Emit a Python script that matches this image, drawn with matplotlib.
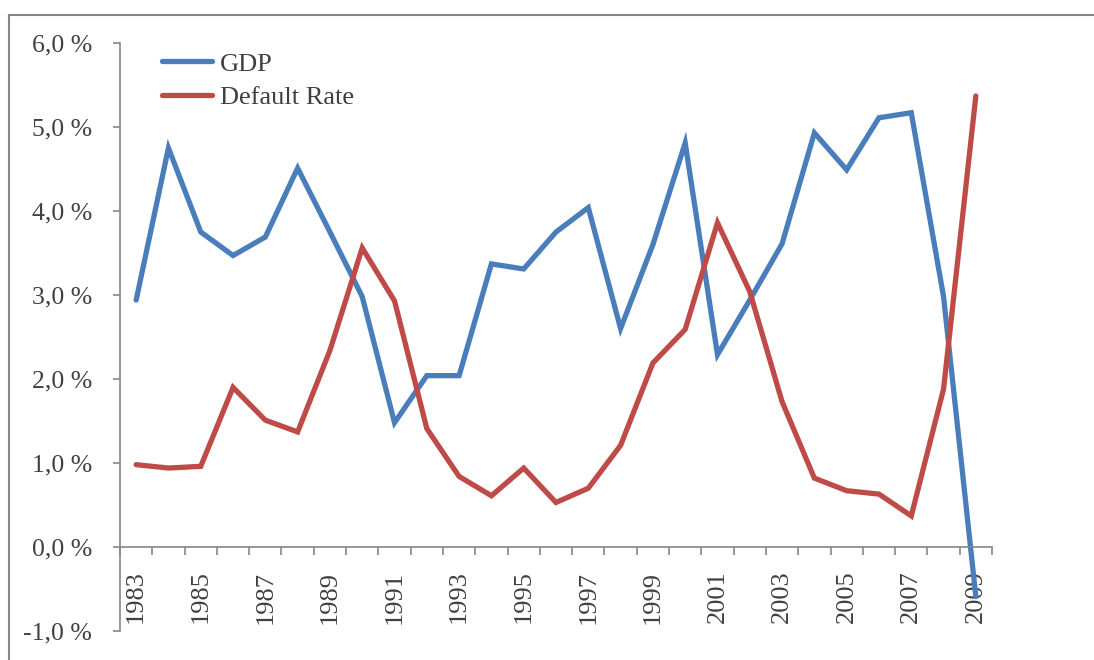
import matplotlib
matplotlib.use("Agg")
import matplotlib.pyplot as plt
from matplotlib.lines import Line2D
from matplotlib.ticker import FuncFormatter

years = list(range(1983, 2010))
gdp = [2.94, 4.75, 3.75, 3.47, 3.69, 4.51, 3.75, 2.98, 1.48, 2.04,
       2.04, 3.37, 3.31, 3.75, 4.04, 2.60, 3.60, 4.81, 2.29, 2.94,
       3.61, 4.93, 4.49, 5.11, 5.17, 2.98, -0.59]
default_rate = [0.98, 0.94, 0.96, 1.90, 1.51, 1.37, 2.34, 3.56, 2.93, 1.41,
                0.84, 0.61, 0.94, 0.53, 0.70, 1.21, 2.19, 2.59, 3.86, 3.04,
                1.73, 0.82, 0.67, 0.63, 0.37, 1.88, 5.37]
label_years = years[::2]

plt.rcParams['font.family'] = ['Liberation Serif', 'DejaVu Serif']
txt = '#404040'
axc = '#868686'

W, H = 1094, 660
fig = plt.figure(figsize=(W / 100, H / 100), dpi=100)
ax = fig.add_axes([120 / W, (H - 631) / H, 872 / W, 588 / H])

ax.plot(years, gdp, color='#4A7EBB', lw=3.8, solid_capstyle='round',
        solid_joinstyle='miter', label='GDP')
ax.plot(years, default_rate, color='#BE4B48', lw=3.8, solid_capstyle='round',
        solid_joinstyle='miter', label='Default Rate')

ax.set_xlim(years[0] - 0.5, years[-1] + 0.5)
ax.set_ylim(-1, 6)

for s in ['top', 'right']:
    ax.spines[s].set_visible(False)
ax.spines['bottom'].set_position(('data', 0))
ax.spines['left'].set_color(axc)
ax.spines['bottom'].set_color(axc)
ax.spines['left'].set_linewidth(1.2)
ax.spines['bottom'].set_linewidth(1.2)

ax.set_yticks(range(-1, 7))
ax.yaxis.set_major_formatter(FuncFormatter(lambda v, p: ('%.1f' % v).replace('.', ',') + ' %'))
ax.tick_params(axis='y', direction='out', length=5, width=1.2, color=axc,
               labelsize=18.5, labelcolor=txt, pad=15)

ax.set_xticks([y - 0.5 for y in years] + [years[-1] + 0.5], minor=True)
ax.set_xticks(label_years)
ax.set_xticklabels([str(y) for y in label_years], rotation=90)
ax.tick_params(axis='x', which='minor', direction='out', length=6, width=1.2, color=axc)
ax.tick_params(axis='x', which='major', length=0, labelsize=19, labelcolor=txt, pad=17)

leg = ax.legend(loc='upper left', bbox_to_anchor=(0.021, 1.025), frameon=False,
                fontsize=19, handlelength=1.9, handletextpad=0.3, labelspacing=0.38)
for t in leg.get_texts():
    t.set_color(txt)

# outer chart border (top and left visible)
fig.add_artist(Line2D([9 / W, 1.0], [1 - 15 / H, 1 - 15 / H], color=axc, lw=1.5,
                      transform=fig.transFigure))
fig.add_artist(Line2D([9 / W, 9 / W], [0, 1 - 15 / H], color=axc, lw=1.5,
                      transform=fig.transFigure))

fig.savefig('out.png', dpi=100)
